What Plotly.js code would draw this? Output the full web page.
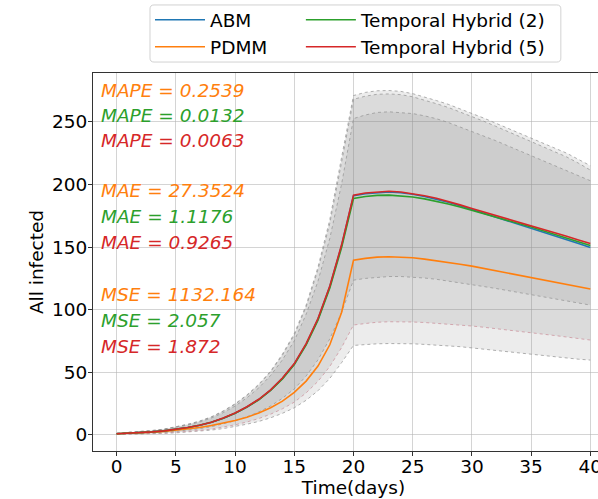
<!DOCTYPE html>
<html>
<head>
<meta charset="utf-8">
<script src="https://cdn.plot.ly/plotly-3.0.1.min.js"></script>
<style>
html, body { margin: 0; padding: 0; overflow: hidden; background: #fff; }
#chart { width: 640px; height: 499px; }
</style>
</head>
<body>
<div id="chart"></div>
<script>
// ---- data ----
const days = [0,1,2,3,4,5,6,7,8,9,10,11,12,13,14,15,16,17,18,19,20,21,22,23,24,25,26,27,28,29,30,31,32,33,34,35,36,37,38,39,40];

const abm = [1,1.4,1.9,2.5,3.3,4.4,5.9,7.7,10.1,13.4,17.4,22.3,28.3,35.8,45.2,56.7,72.6,92.5,118.5,151.5,191,192.6,193.6,194,193.4,192.2,190.4,188.3,185.8,183,180,177.2,174.3,171.4,168.5,165.5,162.5,159.3,156.1,152.9,149.7];
const pdmm = [1,1.3,1.7,2.2,2.9,3.8,4.8,6,7.5,9.3,11.5,14.2,17.5,21.7,27,34,43,55,72,98,139.6,141,142,142.3,142.1,141.5,140.4,139.2,137.8,136.3,134.8,133,131.2,129.4,127.6,125.8,123.9,122,120.2,118.3,116.5];
const th2 = [1,1.4,1.9,2.5,3.3,4.4,5.9,7.7,10.1,13.3,17.3,22.2,28.1,35.5,44.8,56.2,72,91.7,117.3,149.8,188.8,190.4,191.3,191.5,191,190,188.5,186.6,184.4,182,179.4,176.8,174.2,171.5,168.8,166,163.1,160.2,157.2,154.3,151.3];
const th5 = [1,1.4,1.9,2.5,3.3,4.5,6,7.8,10.2,13.5,17.5,22.5,28.5,36,45.5,57,73,93,119,152,191.5,193.2,194.2,194.6,194,192.8,191,189,186.5,183.7,180.8,178.1,175.4,172.7,169.9,167,164.2,161.4,158.6,155.7,152.9];

// spread bands (lower / upper)
const bandUpper1 = [1.4,2.0,2.7,3.6,4.7,6.4,8.5,11.1,14.5,19.2,24.9,32,40.5,51,64.6,81,103.7,134,172,222,271,273.5,274.8,275,274.3,272.5,270,267,264,260.5,257,253,249,245,241,237,233,229,225,220,215];
const bandLower1 = [0.4,0.5,0.7,1.0,1.3,1.7,2.3,3.0,3.9,5.1,6.7,8.6,10.8,13.7,17.3,21.7,27.7,35.3,45.2,57.8,71.5,72.3,72.8,73,73,72.8,72.3,71.8,71.2,70.5,69.5,68.5,67.5,66.3,65.3,64,63.5,62.5,61.5,60.5,59.8];
const bandUpper2 = [1.4,2.0,2.7,3.5,4.6,6.3,8.4,10.9,14.3,18.9,24.5,31.5,39.9,50.4,63.7,79.8,102.2,132,169,218,268,270.5,272,272.3,271.7,270,267.5,264.5,261.5,258,254.5,250.5,246.5,242.5,238.5,234.5,230.5,226.5,222,217,211.5];
const bandLower2 = [0.5,0.6,0.9,1.2,1.5,2.1,2.8,3.6,4.7,6.2,8.1,10.4,13.1,16.6,20.9,26.2,33.6,42.8,54.7,69.9,87.8,89,90,90.4,90.4,90.2,89.8,89.2,88.5,87.8,87,86,85,84,83,81.8,80.6,79.4,78.2,77,75.8];
const bandUpper3 = [1.3,1.8,2.5,3.3,4.4,5.9,7.9,10.3,13.5,17.8,23.1,29.7,37.6,47.5,60,75.2,96.4,122.8,157,200.6,252.6,255.5,257.5,258,257.6,256.6,254.8,252.5,249.5,246,242.5,238.8,235,231,227,223,219,215,211,207,203];
const bandLower3 = [0.6,0.9,1.2,1.6,2.1,2.9,3.9,5.0,6.6,8.7,11.3,14.5,18.4,23.2,29.3,36.8,47.1,60,76.8,98,123.6,125,126,126.5,126.5,126,125.3,124.3,123,121.5,120,118.5,117,115.3,113.5,112,110.3,108.7,107,105.3,103.7];

const metricLabels = ["MAPE = 0.2539","MAPE = 0.0132","MAPE = 0.0063","MAE = 27.3524","MAE = 1.1176","MAE = 0.9265","MSE = 1132.164","MSE = 2.057","MSE = 1.872"];
const metricColors = ["#ff7f0e","#2ca02c","#d62728","#ff7f0e","#2ca02c","#d62728","#ff7f0e","#2ca02c","#d62728"];
const metricY = [0.955,0.8876,0.8215,0.688,0.6203,0.5503,0.4128,0.3452,0.2764];

const xTicks = [0,5,10,15,20,25,30,35,40];
const yTicks = [0,50,100,150,200,250];

// ---- traces ----
const FONT = "DejaVu Sans, Verdana, sans-serif";
const bandFill = "rgba(128,128,128,0.15)";
const edgeGrey = "rgba(150,150,150,0.75)";
const edgePink = "rgba(205,150,160,0.8)";

function band(lower, upper, lowerColor, upperColor) {
  return [
    {x: days, y: lower, mode: "lines", line: {color: lowerColor, width: 1, dash: "dot"},
     showlegend: false, hoverinfo: "skip"},
    {x: days, y: upper, mode: "lines", line: {color: upperColor, width: 1, dash: "dot"},
     fill: "tonexty", fillcolor: bandFill, showlegend: false, hoverinfo: "skip"}
  ];
}

const traces = [].concat(
  band(bandLower1, bandUpper1, edgeGrey, edgeGrey),
  band(bandLower2, bandUpper2, edgePink, edgeGrey),
  band(bandLower3, bandUpper3, edgeGrey, edgeGrey),
  [
    {x: days, y: abm, mode: "lines", name: "ABM", line: {color: "#1f77b4", width: 1.6}, legend: "legend", legendgroup: "g1"},
    {x: days, y: pdmm, mode: "lines", name: "PDMM", line: {color: "#ff7f0e", width: 1.6}, legend: "legend", legendgroup: "g2"},
    {x: days, y: th2, mode: "lines", name: "Temporal Hybrid (2)", line: {color: "#2ca02c", width: 1.6}, legend: "legend2", legendgroup: "g3"},
    {x: days, y: th5, mode: "lines", name: "Temporal Hybrid (5)", line: {color: "#d62728", width: 1.6}, legend: "legend2", legendgroup: "g4"}
  ]
);

const annotations = metricLabels.map((t, i) => ({
  text: t, xref: "paper", yref: "paper", x: 0.0115, y: metricY[i],
  xanchor: "left", yanchor: "middle", showarrow: false,
  font: {family: FONT, size: 18.5, color: metricColors[i], style: "italic"}
}));

// legend frame (rounded)
const fx0 = 0.1094, fx1 = 0.898, fy0 = 1.029, fy1 = 1.18, rx = 0.0077, ry = 0.0106;
const framePath = `M ${fx0+rx},${fy0} L ${fx1-rx},${fy0} Q ${fx1},${fy0} ${fx1},${fy0+ry} L ${fx1},${fy1-ry} Q ${fx1},${fy1} ${fx1-rx},${fy1} L ${fx0+rx},${fy1} Q ${fx0},${fy1} ${fx0},${fy1-ry} L ${fx0},${fy0+ry} Q ${fx0},${fy0} ${fx0+rx},${fy0} Z`;

const legendCommon = {
  yanchor: "top", xanchor: "left", y: 1.19,
  bgcolor: "rgba(0,0,0,0)", borderwidth: 0, traceorder: "normal",
  itemwidth: 50, tracegroupgap: 4,
  font: {family: FONT, size: 18.5, color: "#000"}
};

const layout = {
  width: 640, height: 499,
  margin: {l: 93, r: 26, t: 73, b: 48, autoexpand: false},
  paper_bgcolor: "#fff", plot_bgcolor: "#fff",
  font: {family: FONT, size: 18.5, color: "#000"},
  xaxis: {
    range: [-2, 42], tickvals: xTicks, ticktext: xTicks.map(String),
    showgrid: true, gridcolor: "rgba(176,176,176,0.55)", gridwidth: 1,
    zeroline: false, showline: true, linecolor: "#333", linewidth: 1, mirror: true,
    ticks: "outside", ticklen: 4, tickcolor: "#333", ticklabelstandoff: -5,
    tickfont: {family: FONT, size: 18.5, color: "#000"},
    title: {text: "Time(days)", font: {family: FONT, size: 18.5, color: "#000"}, standoff: 4}
  },
  yaxis: {
    range: [-12.8, 289], tickvals: yTicks, ticktext: yTicks.map(String),
    showgrid: true, gridcolor: "rgba(176,176,176,0.55)", gridwidth: 1,
    zeroline: false, showline: true, linecolor: "#333", linewidth: 1, mirror: true,
    ticks: "outside", ticklen: 4, tickcolor: "#333", ticklabelstandoff: -3,
    tickfont: {family: FONT, size: 18.5, color: "#000"},
    title: {text: "All infected", font: {family: FONT, size: 18.5, color: "#000"}, standoff: 3}
  },
  legend: Object.assign({}, legendCommon, {x: 0.1094}),
  legend2: Object.assign({}, legendCommon, {x: 0.399}),
  shapes: [{
    type: "path", xref: "paper", yref: "paper", path: framePath,
    line: {color: "rgb(210,210,210)", width: 1}, fillcolor: "rgba(255,255,255,0.8)", layer: "below"
  }],
  annotations: annotations,
  showlegend: true
};

Plotly.newPlot("chart", traces, layout, {displayModeBar: false, staticPlot: true});
</script>
</body>
</html>
